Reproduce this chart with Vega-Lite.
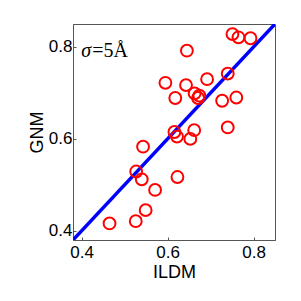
{
  "$schema": "https://vega.github.io/schema/vega-lite/v6.json",
  "autosize": {"type": "none"},
  "padding": {"left": 73, "top": 24, "right": 26, "bottom": 61},
  "width": 202,
  "height": 216,
  "config": {
    "view": {"stroke": "#555", "strokeWidth": 1},
    "axis": {
      "labelFont": "Liberation Sans", "labelFontSize": 17, "labelColor": "#000",
      "titleFont": "Liberation Sans", "titleFontSize": 18, "titleFontWeight": "normal", "titleColor": "#000",
      "grid": false, "domainColor": "#555", "tickColor": "#555", "tickSize": -3
    }
  },
  "datasets": {
    "pts": [
      {"ILDM": 0.751, "GNM": 0.828}, {"ILDM": 0.765, "GNM": 0.821}, {"ILDM": 0.793, "GNM": 0.819},
      {"ILDM": 0.645, "GNM": 0.792}, {"ILDM": 0.740, "GNM": 0.742}, {"ILDM": 0.692, "GNM": 0.730},
      {"ILDM": 0.595, "GNM": 0.722}, {"ILDM": 0.643, "GNM": 0.717}, {"ILDM": 0.663, "GNM": 0.699},
      {"ILDM": 0.674, "GNM": 0.694}, {"ILDM": 0.671, "GNM": 0.689}, {"ILDM": 0.618, "GNM": 0.689},
      {"ILDM": 0.727, "GNM": 0.683}, {"ILDM": 0.760, "GNM": 0.690}, {"ILDM": 0.616, "GNM": 0.615},
      {"ILDM": 0.622, "GNM": 0.605}, {"ILDM": 0.662, "GNM": 0.619}, {"ILDM": 0.653, "GNM": 0.600},
      {"ILDM": 0.740, "GNM": 0.625}, {"ILDM": 0.543, "GNM": 0.583}, {"ILDM": 0.527, "GNM": 0.529},
      {"ILDM": 0.540, "GNM": 0.512}, {"ILDM": 0.623, "GNM": 0.517}, {"ILDM": 0.571, "GNM": 0.489},
      {"ILDM": 0.549, "GNM": 0.445}, {"ILDM": 0.465, "GNM": 0.416}, {"ILDM": 0.526, "GNM": 0.421}
    ],
    "diag": [{"ILDM": 0.38, "GNM": 0.38}, {"ILDM": 0.85, "GNM": 0.85}]
  },
  "layer": [
    {
      "data": {"name": "diag"},
      "mark": {"type": "line", "color": "#0000ff", "strokeWidth": 3.5, "clip": true},
      "encoding": {
        "x": {"field": "ILDM", "type": "quantitative", "scale": {"domain": [0.38, 0.85], "nice": false, "zero": false},
              "axis": {"values": [0.4, 0.6, 0.8], "format": ".1f", "title": "ILDM", "labelPadding": 7, "titlePadding": 3}},
        "y": {"field": "GNM", "type": "quantitative", "scale": {"domain": [0.38, 0.85], "nice": false, "zero": false},
              "axis": {"values": [0.4, 0.6, 0.8], "format": ".1f", "title": "GNM", "labelPadding": 4, "titlePadding": 2}}
      }
    },
    {
      "data": {"name": "pts"},
      "mark": {"type": "point", "shape": "circle", "filled": false, "color": "#ff0000", "strokeWidth": 2, "size": 140, "opacity": 1},
      "encoding": {
        "x": {"field": "ILDM", "type": "quantitative"},
        "y": {"field": "GNM", "type": "quantitative"}
      }
    },
    {
      "data": {"values": [{"t": "σ"}]},
      "mark": {"type": "text", "font": "Liberation Serif", "fontStyle": "italic", "fontSize": 20, "align": "left", "baseline": "alphabetic", "color": "#000"},
      "encoding": {
        "x": {"datum": 0.3993, "type": "quantitative"},
        "y": {"datum": 0.778, "type": "quantitative"},
        "text": {"field": "t"}
      }
    },
    {
      "data": {"values": [{"t": "=5Å"}]},
      "mark": {"type": "text", "font": "Liberation Serif", "fontSize": 20, "align": "left", "baseline": "alphabetic", "color": "#000"},
      "encoding": {
        "x": {"datum": 0.425, "type": "quantitative"},
        "y": {"datum": 0.778, "type": "quantitative"},
        "text": {"field": "t"}
      }
    }
  ]
}
